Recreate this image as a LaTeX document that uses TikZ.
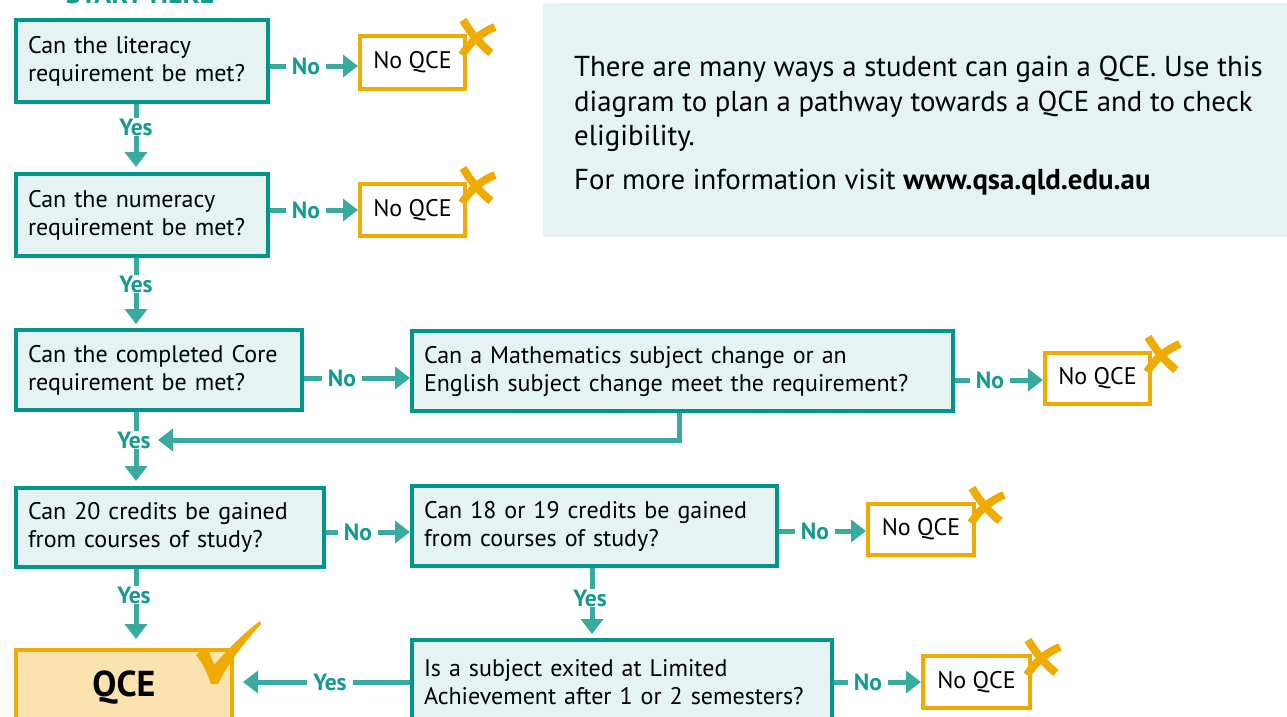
\documentclass[tikz,border=0pt]{standalone}
\usepackage{fontspec}
\setmainfont{PT Sans}
\usetikzlibrary{arrows.meta}
\definecolor{tealB}{HTML}{009689}
\definecolor{tealA}{HTML}{38AAA0}
\definecolor{tealT}{HTML}{149A8F}
\definecolor{tealF}{HTML}{E5F3F2}
\definecolor{orng}{HTML}{F0AB00}
\definecolor{orngF}{HTML}{FAE3AE}
\begin{document}
\begin{tikzpicture}[x=1pt,y=-1pt,
  qbox/.style={draw=tealB, line width=4pt, fill=tealF, anchor=north west, align=left,
    inner xsep=12pt, inner ysep=0pt, font=\fontsize{24}{28}\selectfont},
  nobox/.style={draw=orng, line width=4pt, fill=white, anchor=north west, align=center,
    inner sep=0pt, font=\fontsize{24}{28}\selectfont},
  lbl/.style={font=\bfseries\fontsize{23.5}{26}\selectfont, text=tealT, fill=white,
    inner xsep=6pt, inner ysep=1pt},
  conn/.style={draw=tealA, line width=5pt, -{Triangle[length=15pt,width=22pt]}},
  xmk/.style={draw=orng, line width=8pt},
]
\useasboundingbox (0,0) rectangle (1287,716);
\clip (0,0) rectangle (1287,716);

% info panel
\fill[tealF] (543,3) rectangle (1287,237);
\node[anchor=north west, align=left, inner sep=0pt, font=\fontsize{28.8}{34.5}\selectfont] (info) at (574,56)
 {There are many ways a student can gain a QCE. Use this\\
  diagram to plan a pathway towards a QCE and to check\\
  eligibility.\\[9pt]
  For more information visit \textbf{www.qsa.qld.edu.au}};

% start here (cut off at the top edge, as in the reference)
\node[anchor=base, font=\bfseries\fontsize{28}{30}\selectfont, text=tealT] (start) at (140,3) {START HERE};

% question boxes
\node[qbox, minimum width=252, minimum height=82, text width=228] (b1) at (14,18)
 {Can the literacy\\requirement be met?};
\node[qbox, minimum width=252, minimum height=82, text width=228] (b2) at (14,172)
 {Can the numeracy\\requirement be met?};
\node[qbox, minimum width=286, minimum height=80, text width=262] (b3) at (14,328)
 {Can the completed Core\\requirement be met?};
\node[qbox, minimum width=541, minimum height=80, text width=517] (b4) at (410,329)
 {Can a Mathematics subject change or an\\English subject change meet the requirement?};
\node[qbox, minimum width=308, minimum height=79, text width=284] (b5) at (14,486)
 {Can 20 credits be gained\\from courses of study?};
\node[qbox, minimum width=365, minimum height=80, text width=341] (b6) at (410,484)
 {Can 18 or 19 credits be gained\\from courses of study?};
\node[qbox, minimum width=420, minimum height=84, text width=396] (b7) at (410,638)
 {Is a subject exited at Limited\\Achievement after 1 or 2 semesters?};

% outcome boxes
\node[nobox, minimum width=105, minimum height=53] (n1) at (358,34) {No QCE};
\node[nobox, minimum width=105, minimum height=52] (n2) at (358,182) {No QCE};
\node[nobox, minimum width=105, minimum height=51] (n3) at (1043,351) {No QCE};
\node[nobox, minimum width=106, minimum height=51] (n4) at (866,502) {No QCE};
\node[nobox, minimum width=107, minimum height=52] (n5) at (921,654) {No QCE};
\node[draw=orng, line width=4pt, fill=orngF, anchor=north west, minimum width=216, minimum height=76,
  inner sep=0pt, font=\bfseries\fontsize{36}{38}\selectfont] (q) at (14,648) {QCE};

% crosses on No QCE boxes
\foreach \n in {n1,n2,n3,n4,n5}{
  \begin{scope}[shift={(\n.north east)}, shift={(9,3)}]
    \draw[xmk] (-13,-17) .. controls (-6,-5) and (4,7) .. (15,16);
    \draw[xmk] (19,-10) .. controls (6,-5) and (-6,5) .. (-14,18);
  \end{scope}
}
% tick on QCE
\fill[orng] (196,655) .. controls (202,649) and (206,648) .. (209,651)
  -- (214,665) .. controls (230,647) and (245,632) .. (260,621)
  -- (261,624) .. controls (245,642) and (230,660) .. (218,684)
  -- (211,684) .. controls (207,672) and (202,662) .. (196,655) -- cycle;

% coordinates for connector routing
\coordinate (cx) at (136,0);
\coordinate (r1) at (0,66);
\coordinate (r2) at (0,210);
\coordinate (r3) at (0,378);
\coordinate (r4) at (0,380);
\coordinate (r5) at (0,532);
\coordinate (r6) at (0,531);
\coordinate (r7) at (0,682);
\coordinate (elb) at (679,440);
\coordinate (mx) at (592,0);

% No connectors
\draw[conn] (b1.east |- r1) -- (n1.west |- r1);
\node[lbl] (l1) at (306,66) {No};
\draw[conn] (b2.east |- r2) -- (n2.west |- r2);
\node[lbl] (l2) at (306,210) {No};
\draw[conn] (b3.east |- r3) -- (b4.west |- r3);
\node[lbl] (l3) at (342,378) {No};
\draw[conn] (b4.east |- r4) -- (n3.west |- r4);
\node[lbl] (l4) at (990,380) {No};
\draw[conn] (b5.east |- r5) -- (b6.west |- r5);
\node[lbl] (l5) at (358,532) {No};
\draw[conn] (b6.east |- r6) -- (n4.west |- r6);
\node[lbl] (l6) at (815,531) {No};
\draw[conn] (b7.east |- r7) -- (n5.west |- r7);
\node[lbl] (l7) at (868,682) {No};

% Yes connectors
\draw[conn, shorten >=5pt] (b1.south -| cx) -- (b2.north -| cx);
\node[lbl] (y1) at (136,127) {Yes};
\draw[conn, shorten >=4pt] (b2.south -| cx) -- (b3.north -| cx);
\node[lbl] (y2) at (136,284) {Yes};
\draw[conn, shorten >=5pt] (b3.south -| cx) -- (b5.north -| cx);
\draw[conn] (b4.south -| elb) -- (elb) -- (elb -| 158,0);
\node[lbl, inner xsep=3pt] (y3) at (134,440) {Yes};
\draw[conn, shorten >=9pt] (b5.south -| cx) -- (q.north -| cx);
\node[lbl] (y4) at (134,595) {Yes};
\draw[conn, shorten >=4pt] (b6.south -| mx) -- (b7.north -| mx);
\node[lbl] (y5) at (590,598) {Yes};
\draw[conn, shorten >=9pt] (b7.west |- r7) -- (q.east |- r7);
\node[lbl] (y6) at (330,682) {Yes};
\end{tikzpicture}
\end{document}
